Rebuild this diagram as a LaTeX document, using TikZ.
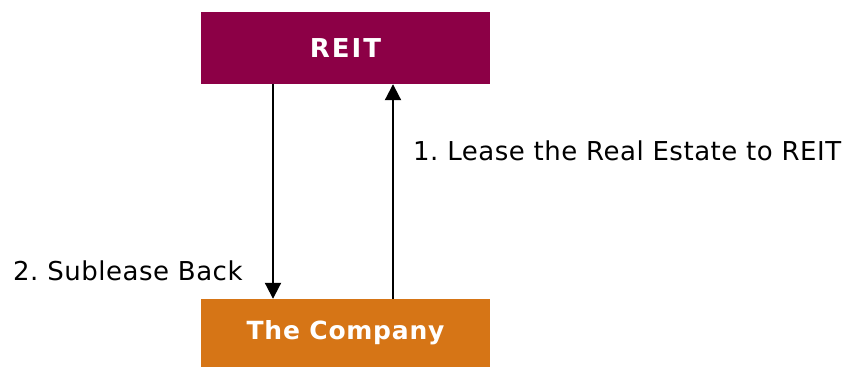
\documentclass[tikz,border=0pt]{standalone}
\usepackage{fontspec}
\setmainfont{DejaVu Sans}
\usetikzlibrary{arrows.meta}
\definecolor{reitcol}{RGB}{140,0,70}
\definecolor{compcol}{RGB}{214,117,22}
\frenchspacing
\begin{document}
\begin{tikzpicture}[x=1pt,y=1pt,
  entity/.style={rectangle, inner sep=0pt, minimum width=289pt, text=white},
  flow/.style={line width=2pt, -{Triangle[length=16pt,width=16pt]}},
  lbl/.style={anchor=base west, inner sep=0pt,
              font=\fontsize{26}{30}\selectfont\addfontfeature{LetterSpace=2}}]
  \useasboundingbox (0,0) rectangle (861,367);
  \fill[white] (0,0) rectangle (861,367);

  % the two parties
  \node[entity, fill=reitcol, minimum height=72pt,
        font=\fontsize{26}{30}\selectfont\bfseries\addfontfeature{LetterSpace=8}]
        (reit) at (345.5,319) {REIT};
  \node[entity, fill=compcol, minimum height=68pt,
        font=\fontsize{25}{30}\selectfont\bfseries\addfontfeature{LetterSpace=3}]
        (company) at (345.5,34) {The Company};

  % flows between them
  \draw[flow] ([xshift=-72.5pt]reit.south) -- ([xshift=-72.5pt]company.north);
  \draw[flow] ([xshift=47.5pt]company.north) -- ([xshift=47.5pt]reit.south);

  % flow labels
  \node[lbl] (lease) at (413,206) {1. Lease the Real Estate to REIT};
  \node[lbl] (sub) at (13,87) {2. Sublease Back};
\end{tikzpicture}
\end{document}
